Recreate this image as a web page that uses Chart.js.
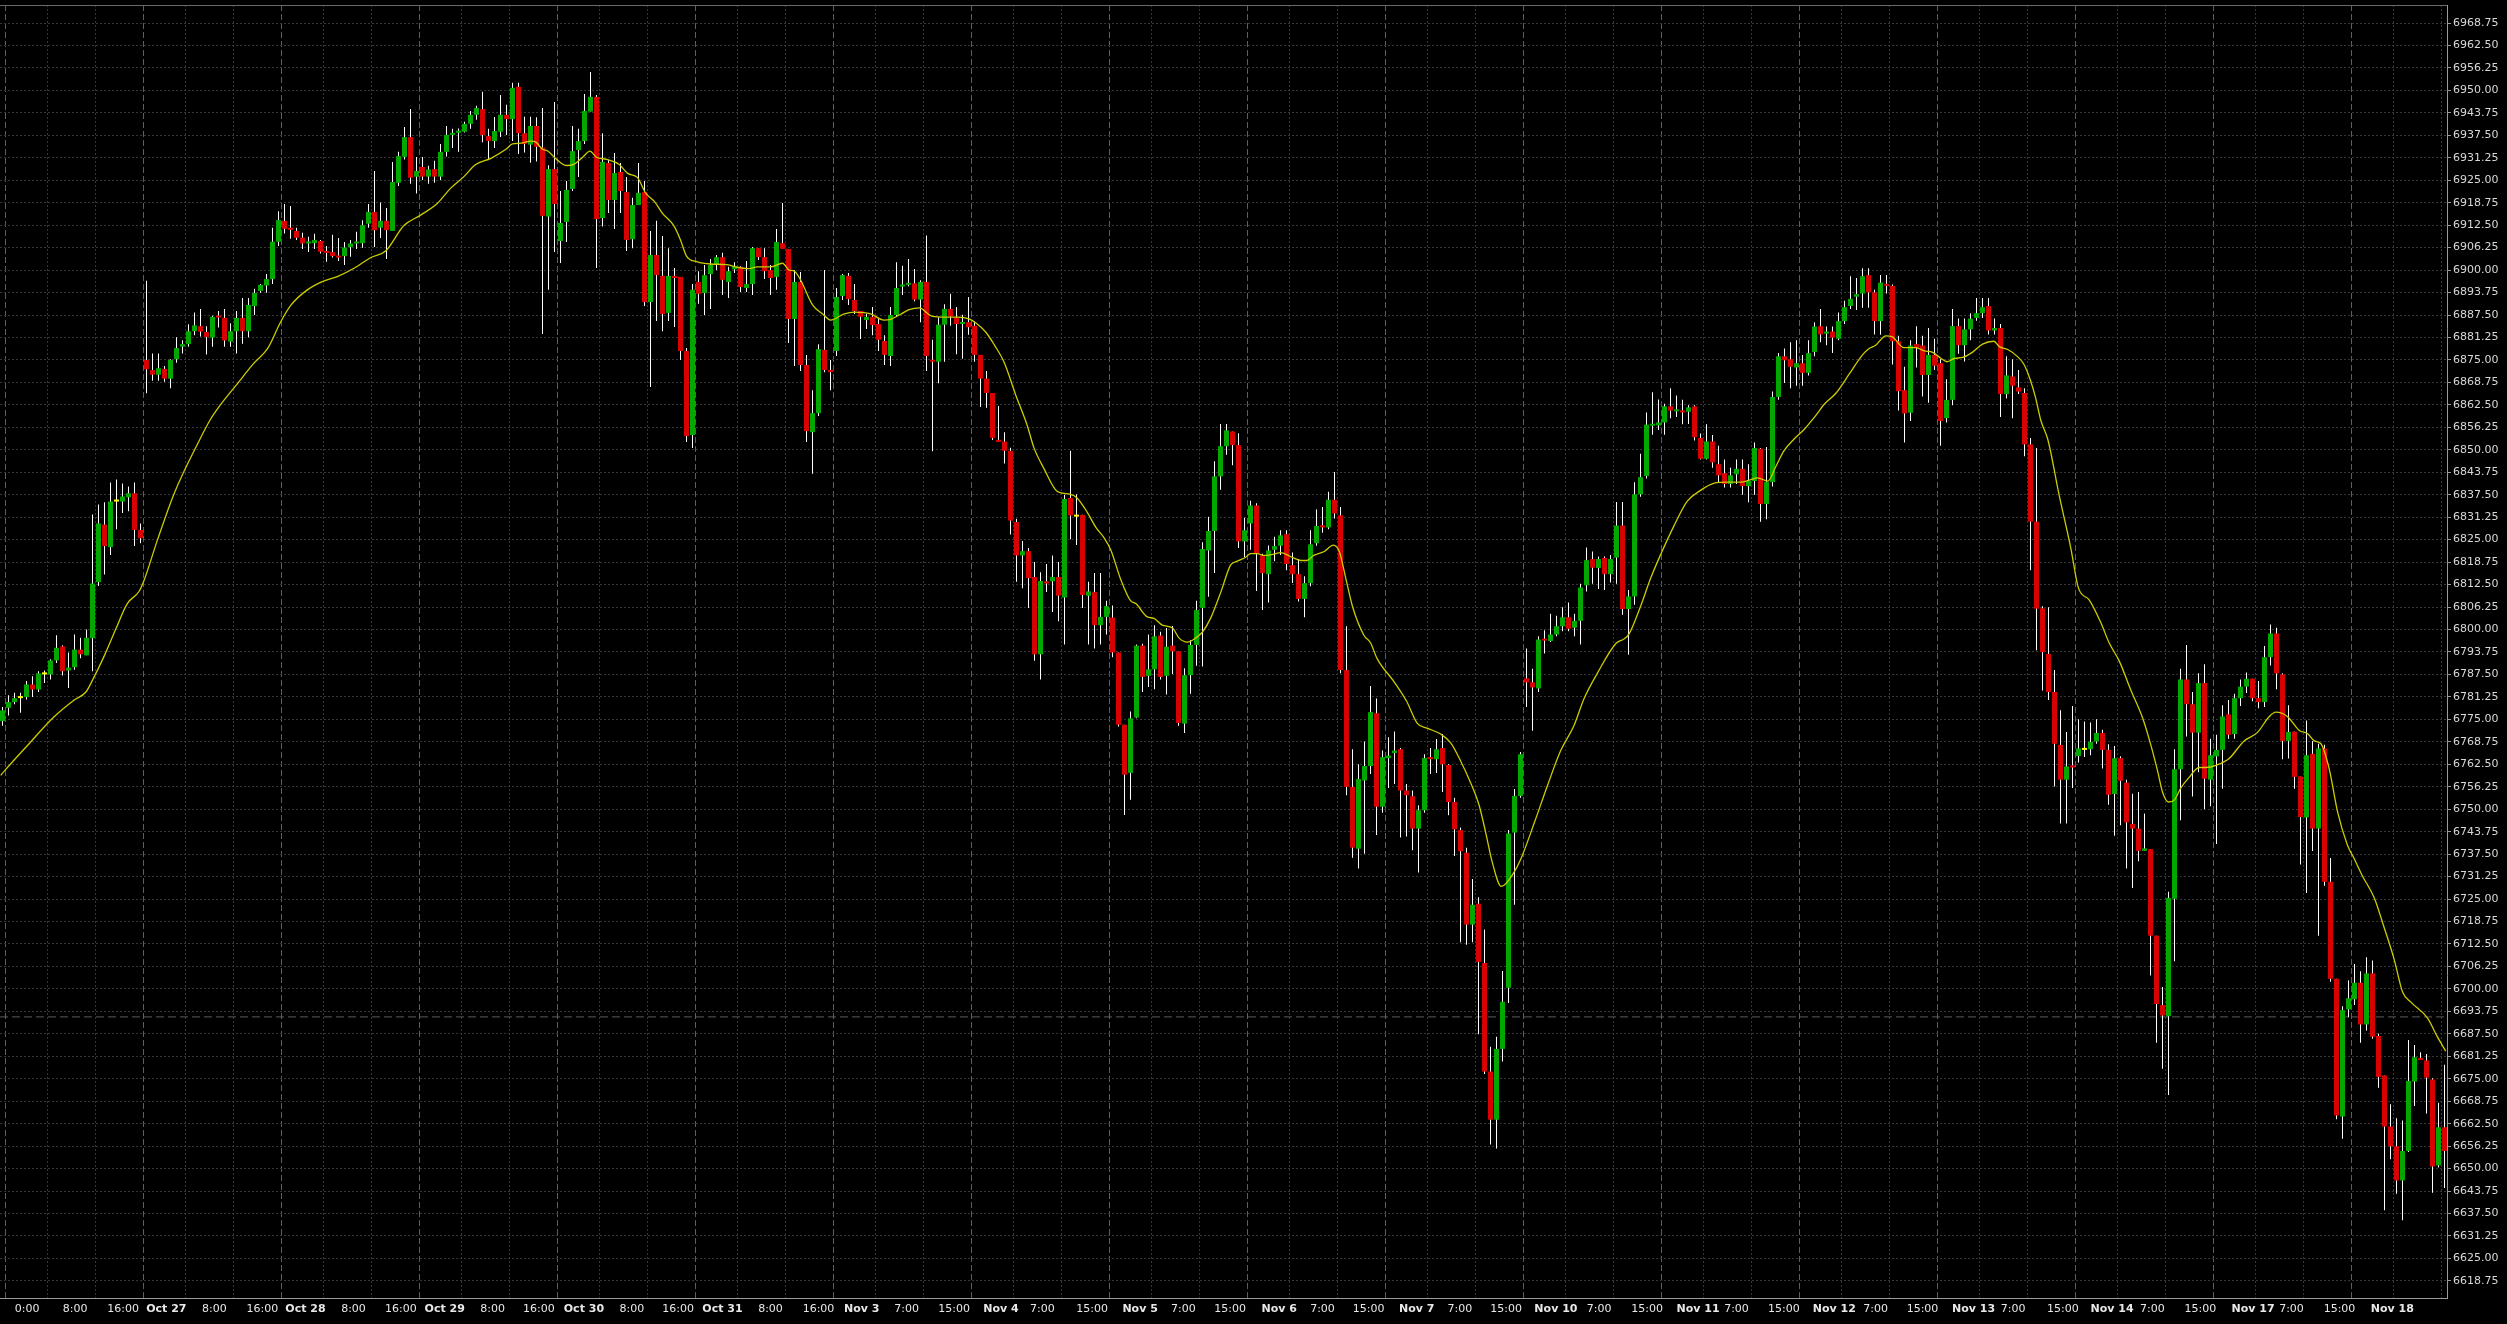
<!DOCTYPE html>
<html>
<head>
<meta charset="utf-8">
<title>Hourly candles</title>
<script src="https://cdn.jsdelivr.net/npm/chart.js@4.4.1/dist/chart.umd.min.js"></script>
<style>
    html, body { margin: 0; padding: 0; background: #000; overflow: hidden; }
    #chart { display: block; }
</style>
</head>
<body>
<canvas id="chart" width="2507" height="1324"></canvas>
<script>
// hourly bars, index 0 = left edge of the chart
const opens = [
    6774.5, 6778.2, 6779.8, 6780.9, 6781.2, 6784.7, 6783.3, 6787.5, 6787.5, 6791.4,
    6795.3, 6788.6, 6789.5, 6794.4, 6792.8, 6797.6, 6813.2, 6829.2, 6822.9, 6835.6,
    6835.6, 6836.8, 6837.9, 6827.7, 6875.0, 6872.2, 6870.9, 6872.5, 6869.8, 6875.2,
    6878.7, 6879.4, 6883.0, 6884.4, 6882.8, 6881.2, 6887.2, 6886.7, 6880.1, 6883.0,
    6886.7, 6883.0, 6890.0, 6894.2, 6895.7, 6897.5, 6907.9, 6913.7, 6911.8, 6910.9,
    6909.0, 6907.4, 6907.5, 6908.1, 6905.3, 6905.0, 6903.9, 6903.9, 6906.4, 6907.4,
    6907.5, 6912.9, 6916.2, 6911.8, 6913.7, 6910.9, 6924.3, 6931.5, 6937.0, 6926.0,
    6928.7, 6926.0, 6928.1, 6926.0, 6932.9, 6937.6, 6938.2, 6938.5, 6940.7, 6943.2,
    6944.8, 6937.3, 6935.9, 6938.5, 6943.2, 6942.0, 6951.0, 6938.1, 6934.9, 6940.1,
    6934.1, 6914.9, 6928.1, 6908.1, 6913.4, 6922.6, 6933.4, 6935.9, 6944.1, 6948.2,
    6914.5, 6929.8, 6919.5, 6927.3, 6921.7, 6908.6, 6918.1, 6921.7, 6891.1, 6904.2,
    6898.4, 6888.1, 6898.4, 6898.1, 6877.5, 6854.1, 6896.7, 6893.6, 6898.9, 6901.4,
    6903.6, 6896.7, 6900.2, 6900.9, 6895.0, 6896.1, 6906.1, 6903.6, 6900.0, 6898.1,
    6907.5, 6905.9, 6886.4, 6896.7, 6873.6, 6854.9, 6860.2, 6877.8, 6872.2, 6877.5,
    6892.8, 6898.4, 6891.7, 6888.6, 6886.1, 6887.0, 6885.0, 6880.3, 6876.1, 6887.5,
    6895.4, 6895.9, 6896.3, 6891.8, 6896.7, 6875.0, 6874.5, 6884.8, 6889.2, 6886.8,
    6885.0, 6885.5, 6884.5, 6876.4, 6869.8, 6865.8, 6852.7, 6852.3, 6849.7, 6829.9,
    6820.6, 6821.8, 6814.6, 6793.1, 6813.4, 6813.4, 6814.6, 6808.9, 6836.6, 6831.4,
    6831.9, 6809.4, 6810.4, 6801.2, 6803.5, 6803.3, 6793.6, 6773.5, 6760.1, 6775.5,
    6795.5, 6787.1, 6788.9, 6798.3, 6787.1, 6795.5, 6793.9, 6773.8, 6787.3, 6795.7,
    6806.0, 6822.0, 6827.4, 6842.6, 6851.0, 6855.1, 6851.3, 6824.5, 6829.5, 6834.5,
    6820.6, 6815.4, 6822.2, 6823.3, 6826.5, 6817.9, 6815.4, 6808.5, 6812.9, 6824.0,
    6829.0, 6828.4, 6836.1, 6831.8, 6788.7, 6756.2, 6739.0, 6758.0, 6762.0, 6776.7,
    6750.7, 6764.2, 6765.6, 6766.7, 6755.2, 6753.6, 6744.6, 6749.7, 6764.5, 6763.9,
    6767.0, 6762.3, 6752.0, 6744.2, 6737.9, 6717.9, 6723.7, 6707.2, 6677.0, 6663.6,
    6683.3, 6700.3, 6743.5, 6753.7, 6786.4, 6785.3, 6783.6, 6797.4, 6796.8, 6798.6,
    6800.9, 6803.4, 6800.5, 6802.4, 6812.3, 6819.6, 6817.1, 6819.9, 6815.4, 6820.0,
    6828.9, 6805.7, 6809.2, 6837.6, 6842.7, 6856.7, 6856.8, 6857.6, 6862.1, 6860.7,
    6861.0, 6860.6, 6862.1, 6853.3, 6847.5, 6852.3, 6846.0, 6843.5, 6840.5, 6843.2,
    6844.7, 6839.9, 6841.3, 6850.3, 6834.9, 6841.0, 6864.7, 6876.0, 6875.2, 6872.9,
    6874.1, 6871.4, 6877.2, 6884.4, 6882.3, 6882.9, 6880.9, 6885.8, 6890.0, 6892.6,
    6893.5, 6898.6, 6893.8, 6885.8, 6896.0, 6895.6, 6880.2, 6866.6, 6860.3, 6879.4,
    6879.0, 6870.8, 6876.4, 6874.1, 6858.8, 6863.9, 6884.4, 6879.1, 6883.5, 6886.7,
    6888.0, 6890.0, 6883.2, 6883.9, 6865.5, 6870.4, 6867.4, 6865.8, 6851.5, 6830.0,
    6805.9, 6793.2, 6782.6, 6767.9, 6758.2, 6762.2, 6764.8, 6766.5, 6766.7, 6768.8,
    6771.2, 6766.5, 6754.2, 6764.2, 6757.4, 6745.9, 6744.6, 6738.4, 6738.9, 6714.8,
    6695.5, 6692.4, 6725.1, 6761.1, 6786.1, 6779.2, 6771.3, 6785.1, 6758.2, 6764.7,
    6766.5, 6776.4, 6770.9, 6780.9, 6784.1, 6786.3, 6780.9, 6779.8, 6792.3, 6798.9,
    6787.5, 6769.0, 6771.6, 6759.1, 6747.7, 6765.4, 6744.6, 6766.9, 6729.8, 6702.8,
    6664.5, 6694.3, 6697.1, 6701.7, 6690.1, 6704.3, 6686.9, 6675.9, 6661.7, 6656.2,
    6646.7, 6654.9, 6674.2, 6680.8, 6680.1, 6674.8, 6650.9, 6661.5
];
const highs = [
    6778.4, 6781.7, 6782.4, 6782.4, 6785.7, 6787.0, 6788.4, 6788.6, 6791.7, 6798.4,
    6795.6, 6793.6, 6798.6, 6797.7, 6800.0, 6832.0, 6834.8, 6835.4, 6840.9, 6841.7,
    6840.6, 6839.8, 6840.9, 6829.5, 6897.0, 6876.8, 6876.8, 6873.3, 6875.2, 6881.3,
    6880.5, 6884.9, 6888.2, 6889.2, 6884.4, 6887.3, 6888.6, 6889.2, 6885.2, 6888.6,
    6892.2, 6892.2, 6894.8, 6896.1, 6898.9, 6911.8, 6916.4, 6918.4, 6917.8, 6911.8,
    6910.4, 6909.3, 6910.1, 6908.4, 6906.7, 6909.8, 6908.9, 6907.8, 6908.4, 6910.7,
    6913.9, 6918.4, 6927.6, 6918.8, 6917.3, 6930.1, 6932.9, 6939.8, 6944.8, 6931.5,
    6931.5, 6929.0, 6930.4, 6935.1, 6940.1, 6939.3, 6939.4, 6941.3, 6944.3, 6945.7,
    6949.6, 6939.3, 6942.6, 6948.7, 6946.0, 6952.1, 6952.1, 6942.7, 6942.7, 6942.5,
    6945.1, 6929.2, 6946.8, 6922.0, 6924.8, 6940.1, 6939.3, 6949.0, 6955.1, 6948.7,
    6938.1, 6930.6, 6932.6, 6929.8, 6925.9, 6920.1, 6929.8, 6924.8, 6910.9, 6913.7,
    6909.5, 6906.1, 6900.6, 6898.1, 6878.3, 6896.1, 6899.7, 6901.4, 6903.1, 6904.2,
    6904.8, 6900.9, 6902.2, 6901.1, 6902.5, 6906.4, 6906.1, 6906.1, 6901.4, 6911.4,
    6918.7, 6905.9, 6900.0, 6899.5, 6876.4, 6866.6, 6879.4, 6900.0, 6875.0, 6895.0,
    6898.9, 6899.2, 6896.1, 6888.6, 6887.8, 6889.7, 6886.4, 6881.9, 6889.7, 6902.2,
    6901.2, 6903.1, 6900.3, 6897.2, 6909.6, 6880.6, 6886.9, 6890.5, 6893.4, 6889.7,
    6887.6, 6892.5, 6885.7, 6876.4, 6871.9, 6865.8, 6862.2, 6854.9, 6850.6, 6830.8,
    6824.6, 6822.7, 6818.8, 6815.9, 6818.2, 6820.6, 6818.8, 6837.4, 6849.7, 6837.6,
    6831.9, 6813.3, 6815.7, 6815.7, 6808.0, 6806.7, 6793.6, 6773.5, 6777.2, 6795.8,
    6796.0, 6798.6, 6801.2, 6799.4, 6800.4, 6801.0, 6793.9, 6789.2, 6797.0, 6808.0,
    6824.3, 6831.4, 6846.8, 6857.2, 6857.2, 6855.1, 6854.6, 6831.1, 6835.8, 6835.1,
    6821.1, 6823.4, 6825.8, 6827.6, 6827.6, 6821.4, 6819.6, 6814.8, 6827.6, 6833.4,
    6834.1, 6838.3, 6843.8, 6834.1, 6800.9, 6766.7, 6762.5, 6768.8, 6784.3, 6780.8,
    6766.3, 6770.0, 6771.6, 6767.0, 6757.0, 6755.2, 6751.1, 6765.3, 6767.0, 6769.5,
    6770.9, 6762.5, 6753.2, 6744.9, 6739.3, 6730.6, 6725.5, 6716.5, 6683.9, 6686.7,
    6705.0, 6744.2, 6755.6, 6765.9, 6794.7, 6789.1, 6798.1, 6799.8, 6804.4, 6803.8,
    6806.2, 6807.5, 6804.4, 6812.7, 6822.8, 6821.7, 6820.3, 6820.3, 6820.7, 6835.5,
    6835.5, 6811.0, 6841.0, 6848.9, 6860.4, 6866.0, 6864.0, 6862.8, 6867.1, 6865.1,
    6863.9, 6862.4, 6862.4, 6854.5, 6857.1, 6854.1, 6851.1, 6847.3, 6845.0, 6847.3,
    6847.3, 6846.0, 6852.0, 6850.5, 6850.8, 6866.2, 6876.9, 6878.2, 6879.9, 6880.5,
    6876.4, 6880.5, 6885.5, 6889.2, 6884.3, 6884.3, 6888.2, 6891.5, 6898.3, 6897.8,
    6900.5, 6900.5, 6894.5, 6898.6, 6898.6, 6896.0, 6881.7, 6873.1, 6880.5, 6884.4,
    6881.7, 6883.9, 6880.9, 6875.2, 6869.6, 6889.2, 6886.5, 6886.5, 6888.0, 6892.2,
    6892.2, 6892.2, 6886.5, 6885.0, 6876.0, 6875.2, 6872.2, 6867.1, 6853.3, 6850.5,
    6806.5, 6806.2, 6788.7, 6777.5, 6771.5, 6778.7, 6775.0, 6774.4, 6774.1, 6775.0,
    6772.1, 6768.1, 6767.6, 6764.7, 6758.2, 6754.3, 6754.8, 6748.8, 6738.9, 6714.8,
    6700.5, 6727.0, 6766.7, 6789.1, 6795.7, 6782.6, 6787.8, 6790.3, 6769.6, 6770.7,
    6778.9, 6780.4, 6782.1, 6786.1, 6788.0, 6786.3, 6785.7, 6795.4, 6801.4, 6800.5,
    6787.8, 6778.9, 6771.6, 6759.1, 6774.7, 6769.0, 6768.2, 6767.9, 6736.4, 6702.8,
    6695.2, 6702.4, 6706.9, 6704.9, 6708.8, 6707.9, 6687.6, 6675.9, 6667.9, 6664.0,
    6663.4, 6685.8, 6684.4, 6682.4, 6681.9, 6675.1, 6668.3, 6678.9
];
const lows = [
    6773.2, 6776.1, 6779.2, 6776.8, 6780.5, 6781.2, 6782.6, 6785.1, 6786.1, 6790.7,
    6787.2, 6783.7, 6788.8, 6792.0, 6792.8, 6788.4, 6812.1, 6815.3, 6820.7, 6827.9,
    6832.4, 6832.9, 6823.2, 6824.0, 6865.7, 6869.2, 6869.2, 6868.9, 6867.1, 6874.2,
    6876.8, 6878.7, 6881.9, 6881.5, 6876.5, 6878.7, 6884.0, 6878.7, 6878.7, 6876.8,
    6879.5, 6881.3, 6887.5, 6893.7, 6893.7, 6896.1, 6906.7, 6910.2, 6908.7, 6908.4,
    6905.9, 6905.0, 6905.9, 6904.6, 6902.3, 6903.5, 6902.5, 6901.4, 6903.7, 6905.9,
    6906.2, 6911.8, 6906.4, 6908.9, 6903.1, 6910.9, 6923.4, 6930.8, 6924.0, 6921.3,
    6925.1, 6924.0, 6924.3, 6925.1, 6931.6, 6934.0, 6932.9, 6938.3, 6939.3, 6941.8,
    6935.6, 6930.9, 6934.0, 6937.0, 6937.6, 6935.9, 6932.3, 6932.7, 6929.9, 6930.2,
    6882.2, 6894.5, 6905.0, 6902.0, 6907.8, 6922.0, 6925.9, 6935.1, 6944.1, 6900.6,
    6912.1, 6915.9, 6911.4, 6915.9, 6905.3, 6906.1, 6918.1, 6890.0, 6867.5, 6885.8,
    6883.0, 6885.8, 6884.2, 6875.0, 6852.2, 6850.5, 6890.6, 6887.5, 6889.2, 6900.0,
    6893.1, 6892.2, 6899.2, 6893.9, 6893.9, 6893.1, 6902.8, 6897.5, 6893.1, 6894.5,
    6905.9, 6879.7, 6873.3, 6871.9, 6852.2, 6843.3, 6859.4, 6871.6, 6866.6, 6876.1,
    6891.7, 6890.3, 6887.8, 6880.8, 6883.6, 6881.9, 6877.5, 6873.6, 6873.3, 6887.0,
    6893.1, 6895.5, 6891.3, 6885.5, 6871.9, 6849.6, 6868.5, 6874.5, 6884.5, 6876.6,
    6875.3, 6882.0, 6874.5, 6861.9, 6861.7, 6852.7, 6852.2, 6846.2, 6826.4, 6813.3,
    6811.5, 6806.0, 6791.3, 6786.1, 6810.4, 6804.9, 6802.3, 6795.8, 6825.1, 6823.5,
    6806.0, 6795.8, 6794.7, 6795.8, 6798.6, 6792.3, 6773.0, 6748.4, 6752.6, 6775.3,
    6782.6, 6784.0, 6783.4, 6786.1, 6781.9, 6787.6, 6773.2, 6771.2, 6782.1, 6789.9,
    6789.7, 6809.1, 6815.7, 6838.9, 6848.6, 6845.7, 6822.7, 6820.1, 6822.2, 6810.7,
    6805.4, 6807.5, 6819.0, 6820.7, 6816.5, 6812.9, 6807.8, 6803.4, 6812.0, 6823.3,
    6826.9, 6827.9, 6830.9, 6787.8, 6753.9, 6736.5, 6733.5, 6737.6, 6759.8, 6742.8,
    6749.0, 6755.9, 6757.0, 6742.1, 6742.4, 6738.6, 6732.4, 6749.0, 6759.8, 6760.1,
    6754.8, 6748.3, 6737.0, 6713.0, 6712.3, 6713.0, 6687.4, 6676.3, 6656.7, 6655.6,
    6679.8, 6696.1, 6723.4, 6753.2, 6778.4, 6771.8, 6782.6, 6793.3, 6796.5, 6798.1,
    6799.5, 6799.5, 6798.1, 6795.8, 6810.6, 6812.7, 6811.3, 6811.0, 6813.1, 6812.7,
    6804.1, 6793.0, 6806.9, 6836.9, 6842.0, 6854.2, 6855.5, 6854.2, 6858.8, 6859.1,
    6857.1, 6857.2, 6852.6, 6847.3, 6847.3, 6845.0, 6841.0, 6839.5, 6839.5, 6840.5,
    6837.5, 6835.4, 6837.5, 6830.0, 6830.7, 6839.8, 6863.9, 6868.6, 6867.1, 6867.8,
    6867.8, 6870.7, 6876.0, 6879.9, 6879.1, 6876.9, 6880.5, 6885.0, 6889.2, 6888.9,
    6889.5, 6889.5, 6882.1, 6882.0, 6893.5, 6873.7, 6860.9, 6852.0, 6858.0, 6872.9,
    6864.8, 6863.1, 6872.2, 6851.1, 6857.6, 6862.4, 6876.7, 6874.6, 6880.5, 6885.9,
    6886.7, 6882.1, 6882.1, 6859.1, 6864.3, 6858.8, 6865.5, 6848.2, 6816.5, 6794.2,
    6783.0, 6780.4, 6756.3, 6746.0, 6746.0, 6755.9, 6763.0, 6764.5, 6765.0, 6768.2,
    6761.3, 6751.2, 6742.6, 6745.5, 6733.5, 6728.1, 6735.5, 6738.4, 6703.7, 6685.0,
    6677.8, 6670.5, 6707.7, 6746.9, 6770.2, 6753.5, 6760.3, 6750.0, 6750.8, 6740.3,
    6755.7, 6769.6, 6769.6, 6778.7, 6782.3, 6780.0, 6778.1, 6778.4, 6790.0, 6783.4,
    6763.9, 6764.1, 6755.7, 6734.6, 6726.7, 6738.4, 6714.8, 6728.7, 6702.0, 6663.7,
    6658.3, 6692.1, 6695.5, 6685.0, 6688.4, 6686.1, 6672.5, 6638.4, 6652.6, 6643.0,
    6635.6, 6654.6, 6667.4, 6680.2, 6665.3, 6643.3, 6650.3, 6644.6
];
const closes = [
    6777.5, 6779.8, 6780.9, 6780.9, 6784.7, 6783.3, 6787.8, 6787.5, 6791.4, 6794.9,
    6788.4, 6789.4, 6794.4, 6793.1, 6797.7, 6812.8, 6829.5, 6823.2, 6835.6, 6835.6,
    6837.0, 6837.9, 6827.7, 6825.4, 6872.4, 6870.9, 6872.7, 6869.8, 6875.0, 6878.3,
    6879.4, 6883.0, 6884.6, 6882.9, 6881.4, 6887.0, 6886.8, 6880.4, 6883.0, 6886.7,
    6883.0, 6890.3, 6893.6, 6895.9, 6897.5, 6907.9, 6913.9, 6911.5, 6911.2, 6909.0,
    6907.4, 6907.9, 6908.4, 6905.1, 6904.8, 6903.9, 6903.5, 6906.3, 6907.4, 6907.8,
    6912.5, 6916.2, 6911.1, 6913.7, 6911.1, 6924.5, 6931.7, 6937.0, 6925.7, 6927.6,
    6926.0, 6928.0, 6926.0, 6932.9, 6937.6, 6938.2, 6938.8, 6940.7, 6943.2, 6945.1,
    6937.6, 6935.9, 6938.7, 6943.2, 6942.0, 6950.7, 6938.1, 6935.1, 6940.1, 6934.3,
    6915.1, 6928.1, 6918.4, 6913.1, 6922.3, 6933.1, 6935.9, 6944.3, 6948.2, 6914.2,
    6930.1, 6919.5, 6927.0, 6922.0, 6908.4, 6918.1, 6921.5, 6891.1, 6904.2, 6898.6,
    6887.8, 6898.4, 6897.8, 6877.5, 6853.8, 6894.5, 6893.4, 6898.6, 6901.4, 6903.6,
    6897.3, 6899.7, 6901.1, 6895.3, 6896.1, 6906.1, 6903.6, 6899.7, 6897.8, 6907.8,
    6905.9, 6886.4, 6896.7, 6873.6, 6855.2, 6860.2, 6878.0, 6872.2, 6871.6, 6892.5,
    6898.6, 6891.9, 6888.6, 6887.0, 6887.0, 6884.7, 6880.6, 6876.4, 6887.5, 6895.0,
    6896.0, 6896.3, 6891.8, 6896.7, 6876.1, 6874.5, 6884.8, 6889.2, 6887.1, 6885.0,
    6885.4, 6884.1, 6876.4, 6869.8, 6865.8, 6853.3, 6852.2, 6849.7, 6830.3, 6820.6,
    6821.8, 6814.3, 6793.1, 6813.5, 6812.8, 6814.6, 6809.4, 6836.3, 6831.7, 6831.4,
    6809.6, 6810.6, 6801.2, 6803.5, 6806.5, 6793.6, 6773.5, 6759.6, 6775.3, 6795.5,
    6786.8, 6788.9, 6798.1, 6786.8, 6795.2, 6793.9, 6774.0, 6787.3, 6795.7, 6805.4,
    6822.4, 6827.4, 6842.6, 6851.0, 6855.4, 6851.3, 6824.5, 6827.6, 6834.5, 6821.1,
    6815.7, 6822.0, 6823.2, 6826.2, 6818.2, 6815.4, 6808.5, 6812.9, 6823.7, 6828.8,
    6828.4, 6836.1, 6832.3, 6788.7, 6756.2, 6739.3, 6758.4, 6762.0, 6777.0, 6750.7,
    6764.5, 6764.9, 6766.3, 6755.2, 6753.9, 6744.6, 6749.7, 6764.2, 6763.9, 6766.7,
    6762.5, 6752.0, 6744.4, 6738.3, 6717.9, 6723.4, 6707.5, 6677.0, 6663.6, 6683.3,
    6696.4, 6743.2, 6753.7, 6765.3, 6785.3, 6783.9, 6797.2, 6796.9, 6798.6, 6800.9,
    6803.4, 6800.2, 6802.4, 6811.7, 6819.3, 6817.2, 6819.6, 6815.4, 6819.6, 6828.9,
    6805.7, 6809.2, 6837.6, 6842.4, 6857.0, 6857.2, 6857.6, 6862.1, 6860.9, 6861.0,
    6860.4, 6861.8, 6853.5, 6847.5, 6852.3, 6846.5, 6842.9, 6840.5, 6842.9, 6844.7,
    6839.9, 6841.3, 6850.5, 6834.9, 6841.0, 6864.7, 6876.0, 6874.9, 6873.1, 6874.1,
    6871.4, 6876.9, 6884.3, 6882.1, 6882.9, 6881.2, 6885.8, 6889.7, 6892.0, 6893.3,
    6898.3, 6893.8, 6885.8, 6896.5, 6895.6, 6880.2, 6866.3, 6860.1, 6879.0, 6878.4,
    6870.8, 6876.4, 6873.4, 6858.0, 6863.9, 6884.4, 6879.1, 6883.5, 6886.5, 6888.0,
    6889.7, 6883.2, 6883.9, 6865.5, 6870.7, 6867.8, 6866.2, 6851.5, 6830.0, 6805.8,
    6793.7, 6782.6, 6768.2, 6758.2, 6761.9, 6761.6, 6766.9, 6766.5, 6768.7, 6771.2,
    6766.5, 6754.0, 6764.2, 6757.9, 6746.3, 6744.6, 6738.4, 6739.1, 6714.8, 6695.8,
    6692.6, 6725.3, 6761.1, 6786.1, 6779.2, 6771.3, 6785.1, 6758.5, 6765.0, 6766.5,
    6775.8, 6770.7, 6780.9, 6784.1, 6786.3, 6780.9, 6779.8, 6792.3, 6798.9, 6787.8,
    6769.0, 6771.5, 6759.0, 6747.8, 6765.0, 6744.6, 6766.9, 6729.8, 6702.8, 6664.8,
    6694.1, 6697.4, 6701.7, 6690.1, 6704.3, 6686.7, 6675.5, 6661.7, 6656.2, 6646.7,
    6654.9, 6674.4, 6681.0, 6680.2, 6675.3, 6650.6, 6661.5, 6654.9
];

// moving average as traced on the picture: bar position and level
const maBars = [
    -0.3, 0.4, 4.2, 8.6, 11.9, 13.9, 15.0, 17.0, 18.9, 20.8, 22.8, 23.6, 25.8, 28.6, 32.8,
    34.6, 36.1, 39.2, 41.9, 44.2, 46.4, 48.1, 50.8, 53.3, 55.8, 58.6, 61.4, 63.9, 66.9,
    69.7, 72.5, 74.7, 76.9, 78.8, 81.4, 83.9, 85.0, 86.4, 88.1, 88.9, 90.0, 90.8, 92.5,
    94.0, 95.3, 96.7, 97.9, 99.0, 100.7, 102.8, 104.2, 105.8, 107.2, 108.7, 110.0, 111.9,
    113.0, 114.0, 115.8, 118.0, 120.8, 122.4, 124.2, 125.8, 128.0, 130.0, 131.1, 131.9,
    133.0, 135.0, 136.7, 138.0, 140.3, 142.0, 144.7, 146.9, 148.0, 149.7, 151.1, 152.9,
    153.9, 155.0, 156.9, 159.2, 161.1, 162.3, 163.9, 165.3, 166.9, 168.9, 170.8, 171.9,
    173.6, 175.8, 178.0, 179.1, 180.8, 182.2, 183.6, 184.7, 186.4, 188.0, 188.9, 190.8,
    191.9, 193.3, 195.0, 196.1, 197.5, 198.6, 200.0, 201.4, 203.1, 204.7, 205.8, 207.2,
    208.0, 209.1, 210.3, 211.7, 213.0, 214.7, 216.4, 217.4, 218.6, 220.3, 221.8, 222.8,
    223.9, 225.0, 226.9, 228.0, 229.1, 232.0, 234.0, 235.8, 237.5, 239.7, 241.4, 243.0,
    244.7, 246.1, 247.2, 248.3, 249.8, 251.9, 253.0, 255.3, 257.5, 259.7, 261.9, 263.6,
    265.8, 268.9, 270.3, 271.1, 273.0, 274.7, 276.4, 278.6, 280.8, 283.0, 285.3, 287.5,
    289.7, 291.4, 292.5, 294.2, 295.6, 296.9, 298.6, 300.3, 302.0, 303.7, 305.6, 307.8,
    310.0, 311.1, 312.2, 313.9, 315.0, 316.9, 318.9, 320.3, 321.7, 323.1, 324.1, 325.3,
    326.7, 328.3, 330.0, 331.9, 332.8, 334.2, 335.8, 336.9, 338.0, 338.8, 339.7, 340.9,
    342.8, 344.7, 346.0, 347.8, 349.7, 351.1, 352.8, 354.7, 356.7, 358.05, 359.2, 360.0,
    361.0, 362.0, 363.05, 364.4, 366.1, 367.2, 368.9, 371.1, 373.6, 375.8, 377.8, 378.9,
    380.8, 382.8, 384.2, 385.3, 386.4, 387.8, 389.2, 390.8, 391.9, 393.3, 395.3, 396.9,
    398.6, 400.0, 401.4, 404.2, 405.8, 407.2
];
const maLevels = [
    6759.4, 6760.8, 6767.8, 6775.7, 6780.3, 6782.6, 6785.9, 6792.8, 6800.2, 6807.2, 6810.7, 6813.7, 6824.8, 6837.8, 6852.6,
    6858.3, 6862.0, 6868.5, 6874.1, 6878.2, 6885.7, 6890.3, 6894.5, 6896.8, 6898.2, 6900.5, 6903.5, 6905.4, 6912.4,
    6915.3, 6918.6, 6922.8, 6926.0, 6929.3, 6931.1, 6933.6, 6935.1, 6935.3, 6935.9, 6935.6, 6933.6, 6933.2, 6930.6,
    6929.1, 6929.5, 6931.4, 6933.1, 6931.4, 6930.8, 6929.4, 6926.9, 6925.8, 6921.4, 6919.0, 6915.8, 6912.3,
    6908.4, 6903.9, 6902.3, 6901.7, 6901.5, 6900.8, 6900.4, 6900.9, 6900.9, 6901.9, 6900.0, 6899.8,
    6897.3, 6890.3, 6887.8, 6886.1, 6887.8, 6888.3, 6887.8, 6886.1, 6886.3, 6887.7, 6889.0, 6889.5,
    6888.3, 6887.1, 6886.9, 6886.9, 6886.4, 6885.2, 6882.7, 6879.2, 6874.5, 6865.1, 6856.7, 6850.6,
    6844.7, 6838.4, 6837.6, 6836.6, 6832.6, 6828.5, 6825.5, 6822.2, 6813.8, 6808.0, 6807.2, 6803.5,
    6803.1, 6801.2, 6800.4, 6797.6, 6796.5, 6797.3, 6799.3, 6803.3, 6810.6, 6818.0, 6819.0, 6820.1,
    6821.1, 6821.1, 6820.6, 6820.9, 6821.4, 6820.3, 6819.2, 6819.2, 6820.7, 6821.7, 6823.5, 6821.7,
    6814.1, 6806.4, 6798.4, 6796.3, 6791.9, 6785.3, 6780.1, 6773.9, 6772.5, 6770.9, 6768.4, 6763.5,
    6757.3, 6751.1, 6743.5, 6735.2, 6728.5, 6732.4, 6735.9, 6746.2, 6756.6, 6766.3, 6773.2, 6780.8,
    6787.8, 6796.1, 6797.4, 6798.8, 6806.4, 6814.3, 6821.0, 6828.9, 6835.7, 6838.7, 6840.7, 6841.0,
    6841.0, 6841.7, 6842.2, 6841.3, 6845.5, 6849.7, 6853.0, 6855.7, 6859.1, 6862.8, 6865.8, 6871.1,
    6876.4, 6878.2, 6879.1, 6881.7, 6881.4, 6878.4, 6878.4, 6877.5, 6877.1, 6875.4, 6874.5, 6875.4,
    6875.7, 6877.1, 6879.4, 6880.2, 6878.7, 6877.9, 6876.0, 6873.8, 6869.3, 6864.8, 6858.3, 6852.8,
    6837.2, 6822.8, 6811.5, 6808.2, 6802.0, 6796.3, 6791.2, 6783.2, 6775.3, 6767.9, 6760.5, 6754.8,
    6752.0, 6752.6, 6755.9, 6758.8, 6761.6, 6761.6, 6762.2, 6764.1, 6769.0, 6771.3, 6775.8, 6777.0,
    6775.8, 6771.9, 6771.0, 6769.0, 6768.2, 6761.1, 6749.1, 6740.1, 6736.4, 6731.5, 6725.3, 6717.3,
    6708.3, 6699.2, 6696.3, 6691.8, 6686.7, 6682.7
];

// long-dashed level line across the chart
const refLevel = 6692.2;

// session starts (bar index) with their long-dashed separators
const sessionBars = [1, 24, 47, 70, 93, 116, 139, 162, 185, 208, 231, 254, 277, 300, 323, 346, 369, 392];
const sessionNames = ['0:00', 'Oct 27', 'Oct 28', 'Oct 29', 'Oct 30', 'Oct 31', 'Nov 3', 'Nov 4', 'Nov 5',
    'Nov 6', 'Nov 7', 'Nov 10', 'Nov 11', 'Nov 12', 'Nov 13', 'Nov 14', 'Nov 17', 'Nov 18'];
// where each session name is centred, in bars
const sessionLabelAt = [4.1, 27.3, 50.5, 73.7, 96.9, 120.0, 143.2, 166.4, 189.6, 212.8, 235.7, 258.9,
    282.6, 305.3, 328.5, 351.6, 375.1, 398.3];

// intraday separators (short dashes)
const hourBars = [8, 16, 31, 39, 54, 62, 77, 85, 100, 108, 123, 131, 146, 154, 169, 177, 192, 200,
    215, 223, 238, 246, 261, 269, 284, 292, 307, 315, 330, 338, 353, 361, 376, 384, 399, 407];
// hour labels and where each is centred, in bars
const hourNames = ['8:00', '16:00', '8:00', '16:00', '8:00', '16:00', '8:00', '16:00', '8:00', '16:00',
    '8:00', '16:00', '7:00', '15:00', '7:00', '15:00', '7:00', '15:00', '7:00', '15:00', '7:00', '15:00',
    '7:00', '15:00', '7:00', '15:00', '7:00', '15:00', '7:00', '15:00', '7:00', '15:00', '7:00', '15:00'];
const hourLabelAt = [12.1, 20.1, 35.3, 43.3, 58.5, 66.4, 81.7, 89.4, 104.9, 112.6, 128.0, 136.0,
    150.7, 158.6, 173.3, 181.6, 196.8, 204.6, 220.0, 227.7, 242.9, 250.6, 266.1, 274.1,
    289.0, 296.9, 312.2, 320.0, 335.1, 343.4, 358.3, 366.3, 381.5, 389.5];

// price axis labels
const priceTicks = [];
for (let p = 6618.75; p <= 6968.76; p += 6.25) priceTicks.push(p);

class CandleChartPage {
    constructor() {
        this.canvas = document.getElementById('chart');
        // plot area: x 0..2447, y 5..1298
        this.xMin = -2.5 / 6;
        this.xMax = this.xMin + 2447 / 6;
        this.yMin = 6613.99;
        this.yMax = 6973.76;
        this.font = 'DejaVu Sans';
        this.init();
    }

    init() {
        this.buildTickLists();
        this.chart = new Chart(this.canvas, this.buildConfig());
    }

    buildTickLists() {
        // grid lines sit on the bar boundary
        this.sessionLines = new Set(sessionBars.map(b => b - 0.5));
        this.gridValues = sessionBars.concat(hourBars).map(b => b - 0.5).sort((a, b) => a - b);

        const items = [];
        sessionLabelAt.forEach((v, i) => items.push({ v, t: sessionNames[i] }));
        hourLabelAt.forEach((v, i) => items.push({ v, t: hourNames[i] }));
        items.sort((a, b) => a.v - b.v);
        this.labelValues = items.map(it => it.v);
        this.labelTexts = items.map(it => it.t);
    }

    candleColor(i) {
        if (closes[i] > opens[i]) return '#00a800';
        if (closes[i] < opens[i]) return '#d80000';
        return '#ffff00';
    }

    buildDatasets() {
        const wicks = lows.map((l, i) => ({ x: i, y: [l, highs[i]] }));
        const bodies = opens.map((o, i) => ({ x: i, y: [o, closes[i]] }));
        const ma = maBars.map((b, i) => ({ x: b, y: maLevels[i] }));

        return [
            {
                type: 'line',
                data: ma,
                xAxisID: 'x',
                yAxisID: 'y',
                borderColor: '#cccc00',
                borderWidth: 1.3,
                pointRadius: 0,
                cubicInterpolationMode: 'monotone',
                order: 0
            },
            {
                type: 'bar',
                data: bodies,
                xAxisID: 'x',
                yAxisID: 'y',
                grouped: false,
                maxBarThickness: 5,
                barPercentage: 1,
                categoryPercentage: 1,
                minBarLength: 2,
                inflateAmount: 0,
                borderWidth: 0,
                backgroundColor: ctx => this.candleColor(ctx.dataIndex),
                order: 1
            },
            {
                type: 'bar',
                data: wicks,
                xAxisID: 'x',
                yAxisID: 'y',
                grouped: false,
                maxBarThickness: 1,
                barPercentage: 1,
                categoryPercentage: 1,
                inflateAmount: 0,
                borderWidth: 0,
                backgroundColor: '#ffffff',
                order: 2
            },
            {
                type: 'line',
                data: [{ x: this.xMin, y: refLevel }, { x: this.xMax, y: refLevel }],
                xAxisID: 'x',
                yAxisID: 'y',
                borderColor: '#5c5c5c',
                borderWidth: 1,
                borderDash: [8, 4],
                pointRadius: 0,
                order: 3
            }
        ];
    }

    buildScales() {
        const isSession = ctx => ctx.tick && this.sessionLines.has(ctx.tick.value);

        return {
            x: {
                type: 'linear',
                position: 'bottom',
                weight: 0,
                bounds: 'data',
                offset: false,
                min: this.xMin,
                max: this.xMax,
                afterBuildTicks: s => { s.ticks = this.gridValues.map(v => ({ value: v })); },
                afterFit: s => { s.height = 0; s.paddingLeft = 0; s.paddingRight = 0; },
                ticks: { display: false, autoSkip: false },
                grid: {
                    offset: false,
                    drawTicks: false,
                    lineWidth: 1,
                    color: ctx => isSession(ctx) ? '#5e5e5e' : '#363636'
                },
                border: {
                    display: true,
                    color: '#9a9a9a',
                    dash: ctx => isSession(ctx) ? [6, 3] : [2, 2]
                }
            },
            xLab: {
                type: 'linear',
                position: 'bottom',
                weight: 1,
                bounds: 'data',
                offset: false,
                min: this.xMin,
                max: this.xMax,
                afterBuildTicks: s => { s.ticks = this.labelValues.map(v => ({ value: v })); },
                afterFit: s => { s.height = 26; s.paddingLeft = 0; s.paddingRight = 0; },
                grid: { display: false, drawTicks: false, offset: false },
                border: { display: false },
                ticks: {
                    autoSkip: false,
                    maxRotation: 0,
                    minRotation: 0,
                    padding: 5,
                    color: '#e8e8e8',
                    font: ctx => ({
                        family: this.font,
                        size: 11,
                        weight: /^[A-Z]/.test(this.labelTexts[ctx.index] || '') ? 'bold' : 'normal'
                    }),
                    callback: (v, i) => this.labelTexts[i]
                }
            },
            xTop: {
                type: 'linear',
                position: 'top',
                offset: false,
                min: this.xMin,
                max: this.xMax,
                afterFit: s => { s.height = 0; s.paddingLeft = 0; s.paddingRight = 0; },
                ticks: { display: false },
                grid: { display: false, drawTicks: false, offset: false },
                border: { display: true, color: '#6a6a6a' }
            },
            y: {
                type: 'linear',
                position: 'right',
                bounds: 'data',
                offset: false,
                min: this.yMin,
                max: this.yMax,
                afterBuildTicks: s => { s.ticks = priceTicks.map(v => ({ value: v })); },
                afterFit: s => { s.width = 60; s.paddingTop = 0; s.paddingBottom = 0; },
                grid: {
                    color: '#363636',
                    lineWidth: 1,
                    drawTicks: true,
                    tickLength: 4,
                    tickColor: '#9a9a9a',
                    tickBorderDash: []
                },
                border: { display: true, color: '#9a9a9a', dash: [2, 2] },
                ticks: {
                    padding: 2,
                    color: '#d8d8d8',
                    font: { family: this.font, size: 11 },
                    callback: v => Number(v).toFixed(2)
                }
            }
        };
    }

    buildConfig() {
        return {
            type: 'bar',
            data: { datasets: this.buildDatasets() },
            options: {
                responsive: false,
                maintainAspectRatio: false,
                devicePixelRatio: 1,
                animation: false,
                events: [],
                layout: { padding: { top: 5, left: 0, right: 0, bottom: 0 } },
                plugins: {
                    legend: { display: false },
                    tooltip: { enabled: false }
                },
                scales: this.buildScales()
            }
        };
    }
}

document.addEventListener('DOMContentLoaded', () => {
    new CandleChartPage();
});
</script>
</body>
</html>
